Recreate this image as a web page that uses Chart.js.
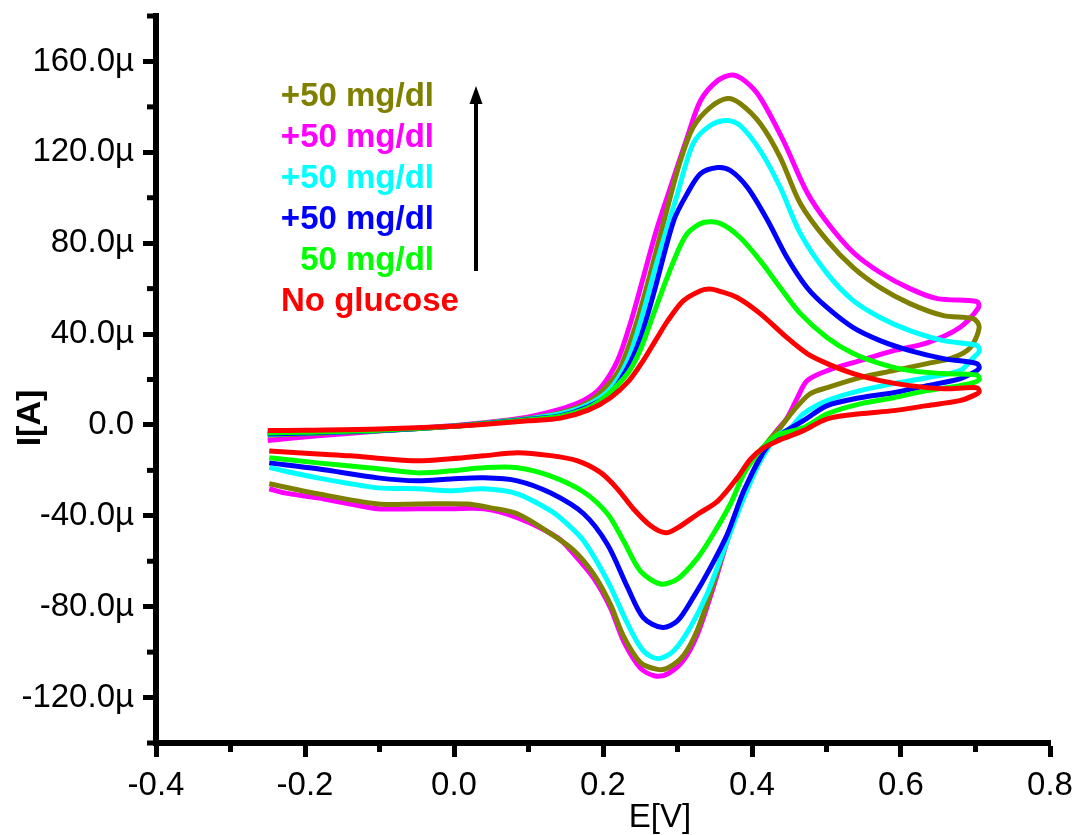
<!DOCTYPE html>
<html><head><meta charset="utf-8">
<script src="https://cdn.jsdelivr.net/npm/chart.js@4.4.1/dist/chart.umd.min.js"></script>
<style>html,body{margin:0;padding:0;background:#fff;overflow:hidden}canvas{display:block}</style>
</head><body>
<canvas id="c" width="1076" height="835"></canvas>
<script>
// ---- data (E in V, I in µA) ----
const seriesNames = ['No glucose', '50 mg/dl', '+50 mg/dl', '+50 mg/dl', '+50 mg/dl', '+50 mg/dl'];

const potRed = [-0.25,-0.20,-0.10,0.00,0.05,0.10,0.143,0.18,0.21,0.235,0.254,0.272,0.287,0.308,0.331,0.343,0.354,0.380,0.411,0.447,0.474,0.501,0.536,0.572,0.612,0.657,0.702,0.705,0.697,0.679,0.635,0.590,0.545,0.501,0.469,0.442,0.415,0.398,0.380,0.354,0.327,0.300,0.284,0.264,0.241,0.219,0.197,0.166,0.130,0.085,0.040,-0.004,-0.049,-0.094,-0.139,-0.183,-0.248];
const curRed = [-2.5,-2.3,-1.8,-0.6,0.5,1.8,3.0,6.5,12.0,19.5,28.3,38.0,45.9,54.7,59.1,59.8,59.1,56.1,49.0,38.4,31.4,27.0,22.6,19.5,17.3,15.9,16.4,14.5,12.9,10.7,8.5,6.3,4.9,2.7,-2.5,-6.0,-10.2,-15.1,-23.4,-33.5,-39.3,-45.3,-47.5,-44.4,-37.0,-28.0,-21.0,-15.8,-13.5,-12.2,-13.6,-14.9,-15.8,-14.9,-13.6,-12.8,-11.5];

const potGreen = [-0.25,-0.20,-0.10,0.00,0.05,0.10,0.143,0.18,0.205,0.233,0.25,0.268,0.295,0.313,0.335,0.358,0.384,0.411,0.438,0.465,0.501,0.536,0.572,0.612,0.657,0.702,0.705,0.697,0.679,0.635,0.590,0.545,0.501,0.469,0.434,0.420,0.407,0.389,0.371,0.348,0.327,0.300,0.277,0.250,0.2275,0.206,0.174,0.130,0.085,0.040,-0.004,-0.049,-0.102,-0.183,-0.248];
const curGreen = [-3.5,-3.2,-2.3,-0.6,0.8,2.3,3.8,7.5,13.0,22.6,33.0,49.0,72.3,84.2,89.1,88.6,82.5,72.3,60.4,49.0,38.4,31.4,27.0,23.9,22.6,22.0,20.0,18.6,17.3,15.1,12.0,9.3,4.9,-1.2,-4.5,-8.0,-12.8,-21.6,-34.8,-48.0,-58.5,-67.8,-70.0,-64.2,-51.0,-39.1,-29.5,-22.5,-18.8,-18.8,-20.2,-21.1,-19.3,-16.7,-14.4];

const potBlue = [-0.25,-0.20,-0.10,0.00,0.05,0.10,0.143,0.18,0.21,0.233,0.25,0.268,0.295,0.313,0.331,0.354,0.371,0.394,0.421,0.447,0.474,0.501,0.536,0.572,0.612,0.657,0.702,0.705,0.697,0.679,0.635,0.590,0.545,0.501,0.469,0.442,0.425,0.415,0.389,0.367,0.344,0.321,0.300,0.280,0.254,0.233,0.206,0.174,0.130,0.085,0.040,-0.004,-0.049,-0.102,-0.183,-0.248];
const curBlue = [-4.0,-3.5,-2.5,-0.6,0.9,2.5,4.1,8.0,14.0,25.2,38.0,57.8,90.0,101.8,110.6,113.3,112.0,104.5,90.0,73.7,60.4,51.6,42.8,37.1,32.7,29.2,27.0,25.0,23.0,20.3,17.3,14.2,12.0,8.5,1.9,-3.5,-8.0,-12.0,-29.0,-48.0,-62.9,-76.0,-86.2,-89.2,-84.8,-71.5,-52.6,-39.1,-30.0,-24.6,-23.3,-23.8,-24.6,-23.3,-19.3,-16.7];

const potCyan = [-0.25,-0.20,-0.10,0.00,0.05,0.10,0.143,0.18,0.21,0.233,0.25,0.273,0.300,0.321,0.344,0.367,0.384,0.411,0.438,0.465,0.501,0.536,0.572,0.612,0.657,0.702,0.705,0.697,0.679,0.635,0.590,0.545,0.501,0.469,0.451,0.434,0.420,0.407,0.384,0.362,0.340,0.317,0.295,0.274,0.254,0.233,0.206,0.174,0.150,0.130,0.085,0.040,-0.004,-0.049,-0.102,-0.183,-0.248];
const curCyan = [-4.2,-3.6,-2.5,-0.5,1.0,2.7,4.9,9.0,16.0,28.3,45.0,72.3,101.8,123.8,131.8,134.0,131.8,120.8,104.5,84.2,66.6,54.7,47.3,41.5,37.1,35.0,32.5,29.6,23.9,20.8,18.2,15.1,10.7,4.9,-1.5,-4.5,-11.0,-18.6,-36.2,-55.2,-74.2,-89.2,-99.4,-102.9,-99.4,-87.5,-68.6,-51.0,-43.0,-37.8,-30.3,-28.1,-29.0,-28.1,-27.7,-23.3,-18.8];

const potOlive = [-0.25,-0.20,-0.10,0.00,0.05,0.10,0.143,0.18,0.205,0.223,0.245,0.268,0.286,0.304,0.321,0.344,0.367,0.384,0.411,0.438,0.465,0.501,0.536,0.572,0.612,0.657,0.697,0.705,0.693,0.670,0.635,0.590,0.545,0.501,0.478,0.455,0.438,0.420,0.400,0.380,0.348,0.327,0.308,0.287,0.273,0.250,0.2275,0.210,0.187,0.160,0.130,0.085,0.049,0.018,-0.049,-0.102,-0.183,-0.248];
const curOlive = [-4.5,-3.9,-2.6,-0.5,1.1,2.9,5.4,10.0,17.0,25.2,45.0,72.3,95.0,116.4,131.0,139.8,143.7,141.5,132.7,117.7,97.4,81.1,69.2,60.4,53.4,48.1,46.8,43.0,34.0,29.6,27.0,23.9,20.8,16.4,13.7,6.0,-1.2,-8.0,-22.0,-37.0,-70.0,-90.0,-101.5,-107.0,-107.6,-104.5,-93.0,-79.0,-65.5,-55.0,-47.9,-39.1,-36.5,-34.8,-34.8,-34.8,-30.3,-25.9];

const potMagenta = [-0.25,-0.183,-0.094,-0.004,0.085,0.143,0.175,0.197,0.2195,0.237,0.254,0.272,0.2905,0.313,0.331,0.354,0.374,0.392,0.411,0.442,0.474,0.501,0.536,0.572,0.612,0.649,0.702,0.704,0.679,0.635,0.590,0.545,0.501,0.474,0.461,0.447,0.432,0.415,0.400,0.380,0.364,0.348,0.327,0.308,0.287,0.270,0.250,0.2275,0.210,0.187,0.160,0.139,0.085,0.040,-0.004,-0.049,-0.102,-0.139,-0.183,-0.228,-0.248];
const curMagenta = [-6.8,-4.8,-2.5,-0.4,2.7,7.0,11.0,16.4,28.3,45.0,64.8,86.0,104.5,126.5,142.8,151.6,154.0,151.0,144.1,125.2,102.3,89.1,75.9,67.1,60.0,55.6,54.3,51.6,42.9,36.1,32.7,28.3,23.9,19.5,12.0,3.0,-3.0,-11.0,-22.0,-37.6,-54.0,-71.5,-91.9,-103.6,-109.5,-110.5,-106.9,-95.0,-80.5,-67.2,-56.5,-49.6,-40.8,-36.9,-36.9,-36.9,-36.9,-34.8,-32.1,-29.9,-28.1];

const xTickValues = [-0.4, -0.2, 0.0, 0.2, 0.4, 0.6, 0.8];
const xTickLabels = ['-0.4', '-0.2', '0.0', '0.2', '0.4', '0.6', '0.8'];
const xMinorTicks = [-0.3, -0.1, 0.1, 0.3, 0.5, 0.7];
const yTickValues = [-120, -80, -40, 0, 40, 80, 120, 160];
const yTickLabels = ['-120.0\u00b5', '-80.0\u00b5', '-40.0\u00b5', '0.0', '40.0\u00b5', '80.0\u00b5', '120.0\u00b5', '160.0\u00b5'];
const yMinorTicks = [-140, -100, -60, -20, 20, 60, 100, 140, 180];

// ---- styles ----
const seriesPot = [potRed, potGreen, potBlue, potCyan, potOlive, potMagenta];
const seriesCur = [curRed, curGreen, curBlue, curCyan, curOlive, curMagenta];
const seriesColors = ['#FF0000', '#00FF00', '#0000FF', '#00FFFF', '#808000', '#FF00FF'];
const legendOrder = [4, 5, 3, 2, 1, 0];
const FONT = "'Liberation Sans', Arial, Helvetica, sans-serif";

const extras = {
  id: 'extras',
  afterDraw(chart) {
    const ctx = chart.ctx, xs = chart.scales.x, ys = chart.scales.y, a = chart.chartArea;
    ctx.save();
    ctx.strokeStyle = '#000'; ctx.lineWidth = 5; ctx.lineCap = 'butt';
    xMinorTicks.forEach(v => { const p = xs.getPixelForValue(v); ctx.beginPath(); ctx.moveTo(p, a.bottom); ctx.lineTo(p, a.bottom + 9); ctx.stroke(); });
    yMinorTicks.forEach(v => { const p = ys.getPixelForValue(v); ctx.beginPath(); ctx.moveTo(a.left, p); ctx.lineTo(a.left - 9, p); ctx.stroke(); });
    // legend text
    ctx.font = 'bold 33px ' + FONT; ctx.textBaseline = 'middle';
    legendOrder.forEach((idx, i) => {
      ctx.fillStyle = seriesColors[idx];
      if (idx === 0) { ctx.textAlign = 'left'; ctx.fillText(seriesNames[idx], 281, 97 + i * 41); }
      else { ctx.textAlign = 'right'; ctx.fillText(seriesNames[idx], 434, 97 + i * 41); }
    });
    // arrow
    ctx.strokeStyle = '#000'; ctx.fillStyle = '#000'; ctx.lineWidth = 4;
    ctx.beginPath(); ctx.moveTo(476, 271); ctx.lineTo(476, 100); ctx.stroke();
    ctx.beginPath(); ctx.moveTo(476, 86); ctx.lineTo(469.5, 104); ctx.lineTo(482.5, 104); ctx.closePath(); ctx.fill();
    // axis titles
    ctx.fillStyle = '#000'; ctx.textAlign = 'center'; ctx.textBaseline = 'middle';
    ctx.font = '33px ' + FONT;
    ctx.fillText('E[V]', 660, 818);
    ctx.save(); ctx.translate(31, 418); ctx.rotate(-Math.PI / 2);
    ctx.font = 'bold 34px ' + FONT; ctx.fillText('I[A]', 0, 0); ctx.restore();
    ctx.restore();
  }
};

new Chart(document.getElementById('c'), {
  type: 'scatter',
  data: {
    datasets: seriesPot.map((pot, k) => ({
      label: seriesNames[k],
      data: pot.map((e, i) => ({ x: e, y: seriesCur[k][i] })),
      showLine: true,
      borderColor: seriesColors[k],
      backgroundColor: seriesColors[k],
      borderWidth: 5,
      pointRadius: 0,
      tension: 0.3,
      fill: false
    }))
  },
  options: {
    responsive: false,
    animation: false,
    events: [],
    layout: { padding: { left: 0, right: 26, top: 16, bottom: 0 } },
    plugins: { legend: { display: false }, tooltip: { enabled: false } },
    scales: {
      x: {
        type: 'linear', min: -0.4, max: 0.8,
        afterBuildTicks: s => { s.ticks = xTickValues.map(v => ({ value: v })); },
        afterFit: s => { s.height = 92; s.paddingLeft = 0; s.paddingRight = 0; },
        grid: { drawOnChartArea: false, drawTicks: true, tickLength: 14, tickWidth: 5, tickColor: '#000', color: '#000' },
        border: { display: true, width: 6, color: '#000' },
        ticks: { callback: (v, i) => xTickLabels[i], font: { family: FONT, size: 33 }, color: '#000', padding: 9, maxRotation: 0, autoSkip: false }
      },
      y: {
        type: 'linear', min: -140, max: 180,
        afterBuildTicks: s => { s.ticks = yTickValues.map(v => ({ value: v })); },
        afterFit: s => { s.width = 156; s.paddingTop = 0; s.paddingBottom = 0; },
        grid: { drawOnChartArea: false, drawTicks: true, tickLength: 13, tickWidth: 5, tickColor: '#000', color: '#000' },
        border: { display: true, width: 6, color: '#000' },
        ticks: { callback: (v, i) => yTickLabels[i], font: { family: FONT, size: 33 }, color: '#000', padding: 9, autoSkip: false }
      }
    }
  },
  plugins: [extras]
});
</script>
</body></html>
